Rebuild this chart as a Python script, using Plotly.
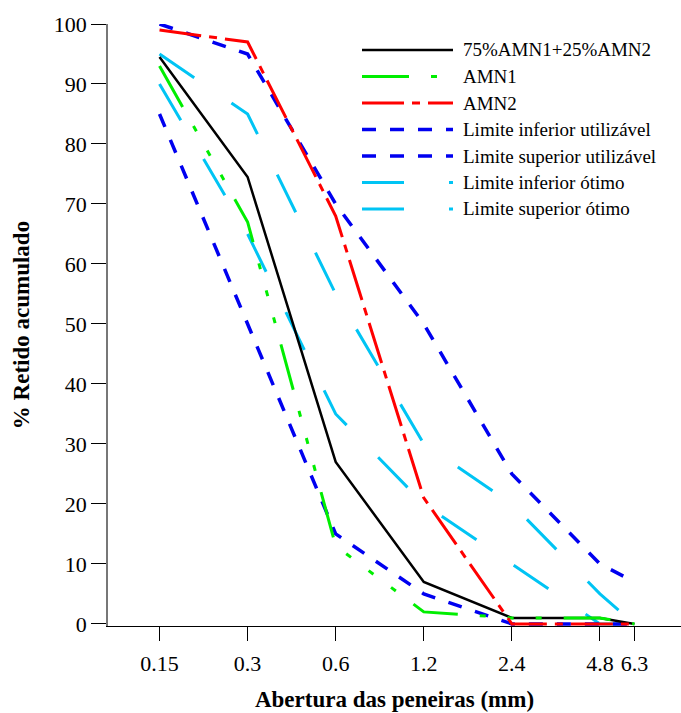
import math
import plotly.graph_objects as go

# ---- data ----
aberturas = [0.15, 0.3, 0.6, 1.2, 2.4, 4.8, 6.3]
tick_labels = ["0.15", "0.3", "0.6", "1.2", "2.4", "4.8", "6.3"]
mistura = [94.5, 74.5, 27, 7, 1, 1, 0]
amn1 = [93, 67, 13, 2, 1, 1, 0]
amn2 = [99, 97, 68, 21, 0, 0, 0]
lim_inf_util = [85, 50, 15, 5, 0, 0, 0]
lim_sup_util = [100, 95, 70, 50, 25, 10, 7]
lim_inf_otimo = [90, 65, 35, 20, 10, 0, 0]
lim_sup_otimo = [95, 85, 55, 30, 20, 5, 0]
nomes = ["75%AMN1+25%AMN2", "AMN1", "AMN2",
         "Limite inferior utilizável", "Limite superior utilizável",
         "Limite inferior ótimo", "Limite superior ótimo"]

# ---- styles ----
BLUE = "#0000F0"
CYAN = "#00C4F4"
styles = {
    "75%AMN1+25%AMN2": dict(color="#000000", width=2.5, dash="solid"),
    "AMN1": dict(color="#00EE00", width=3, dash="47px,22px,6px,22px,6px,22px,6px,22px"),
    "AMN2": dict(color="#FF0000", width=3, dash="42px,8px,8px,8px"),
    "Limite inferior utilizável": dict(color=BLUE, width=3.5, dash="14px,14px"),
    "Limite superior utilizável": dict(color=BLUE, width=3.5, dash="14px,14px"),
    "Limite inferior ótimo": dict(color=CYAN, width=3, dash="42px,45px"),
    "Limite superior ótimo": dict(color=CYAN, width=3, dash="42px,45px"),
}
series = dict(zip(nomes, [mistura, amn1, amn2, lim_inf_util, lim_sup_util,
                           lim_inf_otimo, lim_sup_otimo]))
draw_order = ["Limite inferior ótimo", "Limite superior ótimo",
              "Limite inferior utilizável", "Limite superior utilizável",
              "75%AMN1+25%AMN2", "AMN1", "AMN2"]

W, H = 681, 713
L, R, T, B = 108, 0, 24, 87
FONT = "Liberation Serif, Times New Roman, serif"

fig = go.Figure()
for n in draw_order:
    fig.add_trace(go.Scatter(x=aberturas, y=series[n], mode="lines", name=n,
                             line=styles[n], showlegend=False))

# manual legend with long samples
pw = W - L - R
ph = H - T - B
def px2paper_x(px):
    return (px - L) / pw
def px2paper_y(py):
    return (H - B - py) / ph

row0, step = 50, 26.5
for i, n in enumerate(nomes):
    yy = px2paper_y(row0 + i * step)
    st = styles[n]
    fig.add_shape(type="line", xref="paper", yref="paper",
                  x0=px2paper_x(362), x1=px2paper_x(453), y0=yy, y1=yy,
                  line=dict(color=st["color"], width=st["width"], dash=st["dash"]))
    fig.add_annotation(xref="paper", yref="paper", x=px2paper_x(461), y=yy,
                       text=n, showarrow=False, xanchor="left", yanchor="middle",
                       font=dict(family=FONT, size=19, color="black"))

xr = [math.log10(0.1), math.log10(0.15) + (W - L - R - 52) / 88 * math.log10(2)]

fig.update_layout(
    width=W, height=H,
    margin=dict(l=L, r=R, t=T, b=B),
    plot_bgcolor="white", paper_bgcolor="white",
    font=dict(family=FONT, size=22, color="black"),
    xaxis=dict(type="log", range=xr, tickvals=aberturas, ticktext=tick_labels,
               ticks="outside", ticklen=14, tickwidth=1.3, tickcolor="black",
               showline=True, linecolor="black", linewidth=1.3,
               showgrid=False, zeroline=False, ticklabelstandoff=3,
               tickfont=dict(family=FONT, size=22),
               title=dict(text="<b>Abertura das peneiras (mm)</b>", standoff=16,
                          font=dict(family=FONT, size=23))),
    xaxis2=dict(overlaying="x", anchor="y", side="top", range=[0, pw / 23.4],
                dtick=1, ticks="outside", ticklen=3, tickcolor="#444",
                showline=True, linecolor="#333", linewidth=1.3,
                showticklabels=False, showgrid=False, zeroline=False),
    yaxis=dict(range=[-0.35, 100], tickvals=list(range(0, 101, 10)),
               ticks="outside", ticklen=15, tickwidth=1.3, tickcolor="black",
               showline=True, linecolor="#777", linewidth=1.5,
               showgrid=False, zeroline=False,
               tickfont=dict(family=FONT, size=22),
               title=dict(text="<b>% Retido acumulado</b>", standoff=18,
                          font=dict(family=FONT, size=23))),
)

fig.write_html("out.html")
